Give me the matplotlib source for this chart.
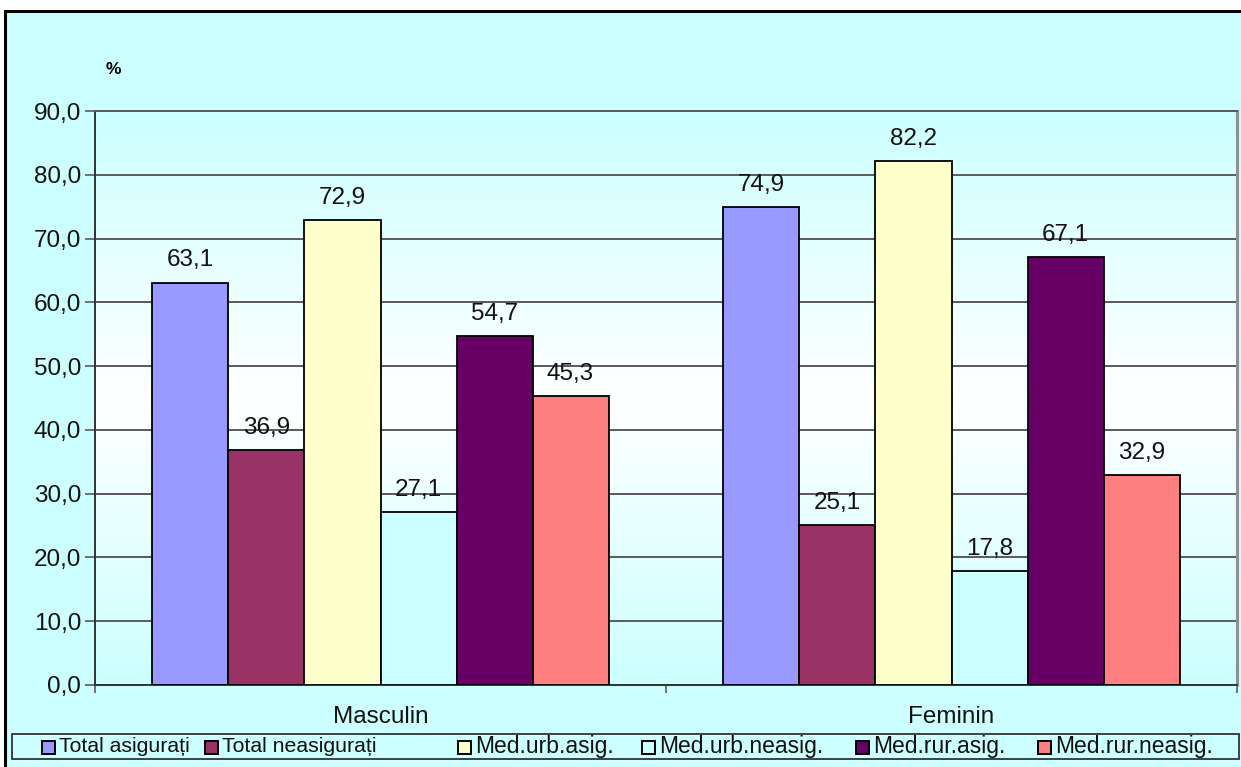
import matplotlib
matplotlib.use("Agg")
import matplotlib.pyplot as plt
import matplotlib.transforms as mtransforms
from matplotlib.patches import Rectangle
from matplotlib.colors import LinearSegmentedColormap
import numpy as np

plt.rcParams['font.family'] = ['Liberation Sans', 'DejaVu Sans']

categories = ["Masculin", "Feminin"]
series = ["Total asigurați", "Total neasigurați", "Med.urb.asig.",
          "Med.urb.neasig.", "Med.rur.asig.", "Med.rur.neasig."]
values = {
    "Total asigurați":   [63.1, 74.9],
    "Total neasigurați": [36.9, 25.1],
    "Med.urb.asig.":     [72.9, 82.2],
    "Med.urb.neasig.":   [27.1, 17.8],
    "Med.rur.asig.":     [54.7, 67.1],
    "Med.rur.neasig.":   [45.3, 32.9],
}
colors = ["#9999FF", "#993366", "#FFFFCC", "#CCFFFF", "#660066", "#FF8080"]
yticks = [0, 10, 20, 30, 40, 50, 60, 70, 80, 90]

BG = "#CCFFFF"
GRID = "#5A5A5A"
W, H = 1241, 767
fig = plt.figure(figsize=(W / 100, H / 100), dpi=100, facecolor="white")


def fx(px):
    return px / W


def fy(py):
    return 1 - py / H


# chart area frame
fig.patches.append(Rectangle((fx(5), -0.05), 1.1, fy(11) + 0.05,
                             transform=fig.transFigure, facecolor=BG,
                             edgecolor="black", linewidth=2.2, zorder=-5))

ax = fig.add_axes([fx(95), fy(685), (1237 - 95) / W, (685 - 111) / H])
ax.set_facecolor(BG)

# plot area fill: cyan at top and bottom fading to white in the middle
fill_cmap = LinearSegmentedColormap.from_list("plotfill", [BG, "#FFFFFF", BG])
ax.imshow(np.linspace(0, 1, 256).reshape(-1, 1), cmap=fill_cmap,
          extent=[0, len(categories), 0, 90], aspect="auto",
          interpolation="bilinear", zorder=-2)

n = len(series)
bar_w = 0.1331
start = (1 - n * bar_w) / 2
for i, (name, col) in enumerate(zip(series, colors)):
    xs = np.arange(len(categories)) + start + bar_w * (i + 0.5)
    vals = values[name]
    ax.bar(xs, vals, width=bar_w, color=col, edgecolor="black",
           linewidth=1.3, zorder=3, label=name)
    for x, v in zip(xs, vals):
        ax.annotate(f"{v:.1f}".replace(".", ","), (x, v), xytext=(0, 8),
                    textcoords="offset points", ha="center", va="bottom",
                    fontsize=17.5, color="#111111", zorder=4)

ax.set_xlim(0, len(categories))
ax.set_ylim(0, 90)
ax.set_yticks(yticks)
ax.set_yticklabels([f"{t:.1f}".replace(".", ",") for t in yticks],
                   fontsize=17.5, color="#111111")
ax.yaxis.grid(True, color=GRID, linewidth=1.4, zorder=1)
ax.set_axisbelow(True)

ax.set_xticks(np.arange(len(categories) + 1))
ax.set_xticklabels([])
ax.tick_params(axis="x", direction="out", length=6, width=1.2, color=GRID)
ax.tick_params(axis="y", direction="out", length=7, width=1.2, color=GRID, pad=3)

trans = mtransforms.blended_transform_factory(ax.transData, ax.transAxes)
for i, c in enumerate(categories):
    ax.text(i + 0.5, -0.055, c, transform=trans, ha="center", va="center",
            fontsize=17.5, color="#111111")

ax.spines["top"].set_color(GRID)
ax.spines["top"].set_linewidth(1.4)
ax.spines["right"].set_color("#909090")
ax.spines["right"].set_linewidth(2.2)
for side in ["left", "bottom"]:
    ax.spines[side].set_color("#333333")
    ax.spines[side].set_linewidth(1.4)

fig.text(fx(113), fy(70), "%", fontsize=12.5, fontweight="bold",
         ha="center", va="center")

# legend strip along the bottom
fig.patches.append(Rectangle((fx(12), fy(759)), (1239 - 12) / W, (759 - 734) / H,
                             transform=fig.transFigure, facecolor=BG,
                             edgecolor="#333333", linewidth=1.3, zorder=1))
marker_x = [42, 205, 458, 642, 856, 1038]
label_sizes = [15.3, 15.3, 16.5, 16.5, 16.5, 16.5]
for mx, name, col, fs in zip(marker_x, series, colors, label_sizes):
    fig.patches.append(Rectangle((fx(mx), fy(754)), 13 / W, 13 / H,
                                 transform=fig.transFigure, facecolor=col,
                                 edgecolor="black", linewidth=1.4, zorder=2))
    fig.text(fx(mx + 17), fy(747), name, fontsize=fs, ha="left", va="center",
             color="#111111", zorder=3)

fig.savefig("out.png", dpi=100, facecolor="white")
